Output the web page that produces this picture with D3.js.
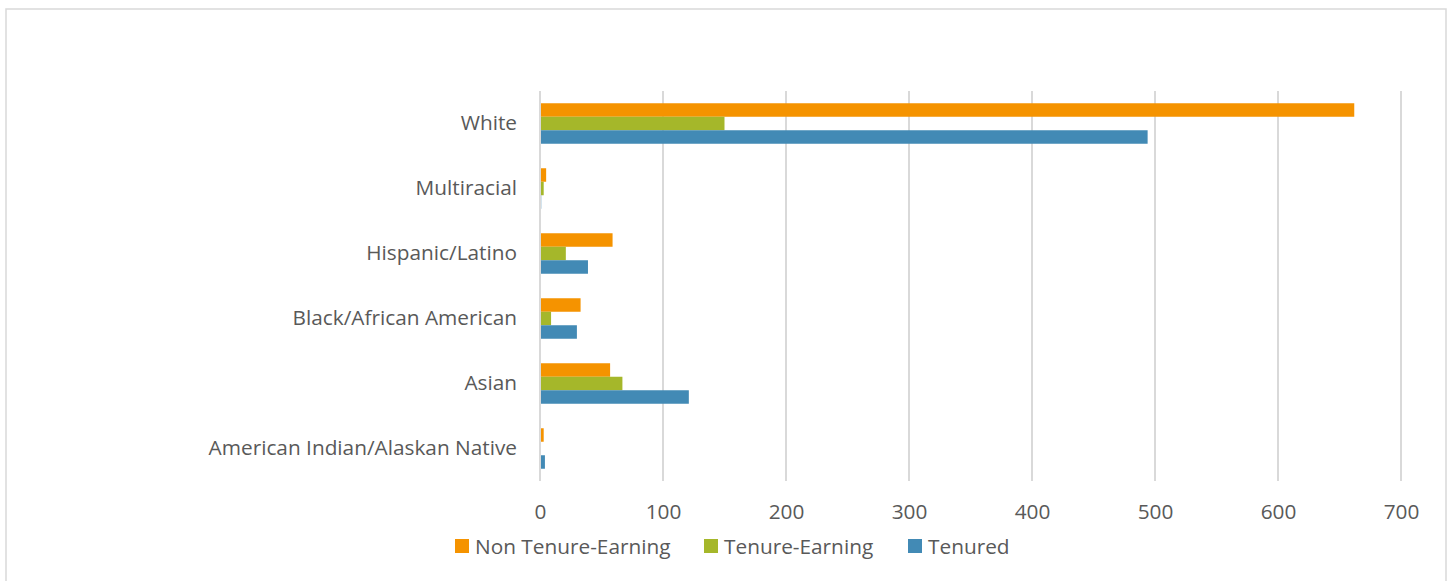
<!DOCTYPE html>
<html>
<head>
<meta charset="utf-8">
<script src="https://cdn.jsdelivr.net/npm/d3@7"></script>
<style>
  body { margin: 0; background: #fff; }
  text { font-family: "Open Sans", sans-serif; fill: #595959; }
</style>
</head>
<body>
<div id="chart"></div>
<script>
// categories, top to bottom
var categories = ["White", "Multiracial", "Hispanic/Latino", "Black/African American", "Asian", "American Indian/Alaskan Native"];
var seriesNames = ["Non Tenure-Earning", "Tenure-Earning", "Tenured"];
var nonTenureEarning = [662, 5, 59, 33, 57, 3];
var tenureEarning = [150, 3, 21, 9, 67, 0];
var tenured = [494, 1, 39, 30, 121, 4];
var xTicks = [0, 100, 200, 300, 400, 500, 600, 700];

var colors = ["#f59300", "#a5b72a", "#428ab5"];
var fontSize = 20.8;

var W = 1452, H = 581;
var margin = {top: 91, left: 540, right: 51, bottom: 100},
    width = W - margin.left - margin.right,
    height = H - margin.top - margin.bottom;

var svg = d3.select("#chart")
  .append("svg")
    .attr("width", W)
    .attr("height", H);

// outer border
svg.append("rect")
  .attr("x", 6).attr("y", 9)
  .attr("width", 1440).attr("height", 580)
  .attr("fill", "none")
  .attr("stroke", "#d9d9d9")
  .attr("stroke-width", 1.5);

var allSeries = [nonTenureEarning, tenureEarning, tenured];

var x = d3.scaleLinear().domain([0, 700]).range([0, width]);
var y0 = d3.scaleBand().domain(categories).range([0, height])
  .paddingInner(0.377).paddingOuter(0.1885);
var y1 = d3.scaleBand().domain(seriesNames).range([0, y0.bandwidth()]);

var g = svg.append("g")
  .attr("transform", "translate(" + margin.left + "," + margin.top + ")");

// gridlines
g.append("g").selectAll("line")
  .data(xTicks)
  .enter().append("line")
    .attr("x1", function(d) { return x(d); })
    .attr("x2", function(d) { return x(d); })
    .attr("y1", 0)
    .attr("y2", height)
    .attr("stroke", "#d9d9d9")
    .attr("stroke-width", 2);

// bars
var groups = g.append("g").selectAll("g")
  .data(categories)
  .enter().append("g")
    .attr("transform", function(d) { return "translate(0," + y0(d) + ")"; });

groups.selectAll("rect")
  .data(function(d, i) {
    return seriesNames.map(function(s, j) { return {series: s, value: allSeries[j][i], idx: j}; });
  })
  .enter().append("rect")
    .attr("x", x(0) + 1)
    .attr("y", function(d) { return y1(d.series); })
    .attr("height", y1.bandwidth())
    .attr("width", function(d) { return Math.max(0, x(d.value) - x(0) - 1); })
    .attr("fill", function(d) { return colors[d.idx]; });

// y axis labels
var yAxis = d3.axisLeft(y0).tickSize(0).tickPadding(23);
g.append("g")
  .call(yAxis)
  .call(function(a) { a.select(".domain").remove(); })
  .selectAll("text")
    .attr("font-size", fontSize)
    .style("font-family", "'Open Sans', sans-serif")
    .attr("fill", "#595959");

// x axis labels
var xAxis = d3.axisBottom(x).tickValues(xTicks).tickSize(0).tickPadding(23);
g.append("g")
  .attr("transform", "translate(0," + height + ")")
  .call(xAxis)
  .call(function(a) { a.select(".domain").remove(); })
  .selectAll("text")
    .attr("font-size", fontSize)
    .style("font-family", "'Open Sans', sans-serif")
    .attr("fill", "#595959");

// legend
var legendX = [455, 704, 908];
var legend = svg.append("g").selectAll("g")
  .data(seriesNames)
  .enter().append("g")
    .attr("transform", function(d, i) { return "translate(" + legendX[i] + ",539)"; });

legend.append("rect")
  .attr("width", 14).attr("height", 14)
  .attr("fill", function(d, i) { return colors[i]; });

legend.append("text")
  .attr("x", 20)
  .attr("y", 14.5)
  .attr("font-size", fontSize)
  .text(function(d) { return d; });
</script>
</body>
</html>
